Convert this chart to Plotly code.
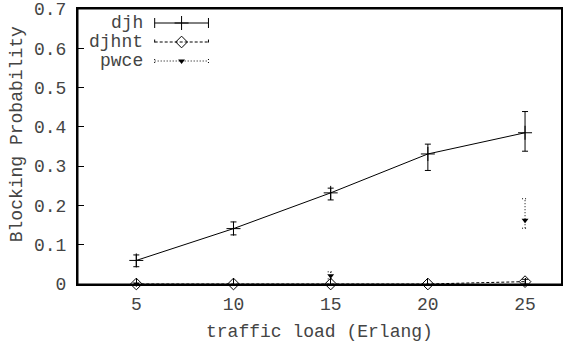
import plotly.graph_objects as go

# Blocking probability vs. offered traffic load, with confidence intervals
load = [5, 10, 15, 20, 25]

djh = [0.060, 0.141, 0.232, 0.331, 0.385]
djh_lo = [0.044, 0.125, 0.214, 0.289, 0.338]
djh_hi = [0.074, 0.158, 0.244, 0.356, 0.439]

djhnt = [0.0, 0.0, 0.0, 0.0, 0.006]
djhnt_lo = [0.0, 0.0, 0.0, 0.0, 0.0]
djhnt_hi = [0.0, 0.0, 0.0, 0.0, 0.012]

pwce = [0.0, None, 0.021, None, 0.162]
pwce_lo = [0.0, None, 0.013, None, 0.142]
pwce_hi = [0.0, None, 0.031, None, 0.217]

y_ticks = [0, 0.1, 0.2, 0.3, 0.4, 0.5, 0.6, 0.7]
x_ticks = [5, 10, 15, 20, 25]

FONT = "Liberation Mono"
INK = "black"
TXT = "#444444"
FS = 18

# plot-area geometry (pixels)
L, R, T, B = 78, 0, 9, 63
W, H = 563, 347
PW, PH = W - L - R, H - T - B
X_RANGE = [2, 26.85]
Y_RANGE = [0, 0.7]
px_per_x = PW / (X_RANGE[1] - X_RANGE[0])
cap = 3.0 / px_per_x  # half-width of error-bar caps, in data units


def dx(xpx):
    """Pixel column -> x data value (for placing the key)."""
    return X_RANGE[0] + (xpx - L) / px_per_x


def dy(ypx):
    """Pixel row -> y data value (for placing the key)."""
    return Y_RANGE[0] + (H - B - ypx) / PH * (Y_RANGE[1] - Y_RANGE[0])


def py(ypx):
    return (H - B - ypx) / PH


def px(xpx):
    return (xpx - L) / PW


def bar_segments(xs, lo, hi):
    """Vertical error bars with caps as one polyline broken by None."""
    sx, sy = [], []
    for x, a, b in zip(xs, lo, hi):
        if a is None or b is None or b <= a:
            continue
        sx += [x, x, None, x - cap, x + cap, None, x - cap, x + cap, None]
        sy += [a, b, None, b, b, None, a, a, None]
    return sx, sy


fig = go.Figure()

# djh: solid line, crosses, solid error bars
fig.add_trace(go.Scatter(
    x=load, y=djh, mode="lines+markers",
    line=dict(color=INK, width=1),
    marker=dict(symbol="cross-thin", size=10, color=INK, line=dict(color=INK, width=1)),
    error_y=dict(type="data", symmetric=False,
                 array=[h - v for h, v in zip(djh_hi, djh)],
                 arrayminus=[v - l for v, l in zip(djh, djh_lo)],
                 color=INK, thickness=1, width=3)))

# djhnt: dashed line, open diamonds
fig.add_trace(go.Scatter(
    x=load, y=djhnt, mode="lines", line=dict(color=INK, width=1, dash="3px,2px")))
fig.add_trace(go.Scatter(
    x=load, y=djhnt, mode="markers", cliponaxis=False,
    marker=dict(symbol="diamond-open", size=9, color=INK, line=dict(color=INK, width=1))))
ex, ey = bar_segments(load, djhnt_lo, djhnt_hi)
fig.add_trace(go.Scatter(x=ex, y=ey, mode="lines", line=dict(color=INK, width=1)))

# pwce: dotted error bars, filled down-triangles
ex, ey = bar_segments(load, pwce_lo, pwce_hi)
fig.add_trace(go.Scatter(x=ex, y=ey, mode="lines",
                         line=dict(color=INK, width=1, dash="1px,2px")))
fig.add_trace(go.Scatter(
    x=load, y=pwce, mode="markers", cliponaxis=False,
    marker=dict(symbol="triangle-down", size=6, color=INK)))

# key in the upper-left corner
key_rows = [
    ("djh", 23, dict(color=INK, width=1),
     dict(symbol="cross-thin", size=10, color=INK, line=dict(color=INK, width=1)), 10),
    ("djhnt", 42, dict(color=INK, width=1, dash="3px,2px"),
     dict(symbol="diamond-open", size=9, color=INK, line=dict(color=INK, width=1)), 5),
    ("pwce", 61, dict(color=INK, width=1, dash="1px,2px"),
     dict(symbol="triangle-down", size=6, color=INK), 4),
]
kx0, kx1, kxm, ktext = 155, 209, 182, 145
for name, ky, ln, mk, tick in key_rows:
    a, b = dy(ky - tick / 2), dy(ky + tick / 2)
    fig.add_trace(go.Scatter(
        x=[dx(kx0), dx(kx1), None, dx(kx0), dx(kx0), None, dx(kx1), dx(kx1)],
        y=[dy(ky), dy(ky), None, a, b, None, a, b],
        mode="lines", line=ln))
    fig.add_trace(go.Scatter(x=[dx(kxm)], y=[dy(ky)], mode="markers", marker=mk))
    fig.add_annotation(x=px(ktext), y=py(ky), xref="paper", yref="paper", text=name,
                       showarrow=False, xanchor="right", yanchor="middle",
                       font=dict(family=FONT, size=FS, color=TXT))

# border on the left, bottom and top edges of the plot area
for (x0, x1, y0, y1) in [(0, 0, 0, 1), (0, 1, 0, 0), (0, 1, 1, 1)]:
    fig.add_shape(type="line", xref="paper", yref="paper", x0=x0, x1=x1, y0=y0, y1=y1,
                  line=dict(color=INK, width=1))

axis_common = dict(showgrid=False, zeroline=False, showline=True, linecolor=INK,
                   linewidth=2, mirror=True, ticks="inside", ticklen=6, tickwidth=1,
                   tickcolor=INK, tickfont=dict(family=FONT, size=FS, color=TXT))

fig.update_layout(
    width=W, height=H, showlegend=False, hovermode=False,
    margin=dict(l=L, r=R, t=T, b=B),
    plot_bgcolor="white",
    xaxis=dict(range=X_RANGE, tickmode="array", tickvals=x_ticks,
               ticktext=[str(v) for v in x_ticks], ticklabelstandoff=2, **axis_common),
    yaxis=dict(range=Y_RANGE, tickmode="array", tickvals=y_ticks,
               ticktext=["0" if v == 0 else f"{v:.1f}" for v in y_ticks],
               ticklabelstandoff=6, **axis_common),
)

# axis titles
fig.add_annotation(x=0.5, y=py(332), xref="paper", yref="paper", text="traffic load (Erlang)",
                   showarrow=False, xanchor="center", yanchor="middle",
                   font=dict(family=FONT, size=FS, color=TXT))
fig.add_annotation(x=px(17), y=py(134), xref="paper", yref="paper", text="Blocking Probability",
                   showarrow=False, textangle=-90, xanchor="center", yanchor="middle",
                   font=dict(family=FONT, size=FS, color=TXT))

fig.write_html("out.html")
